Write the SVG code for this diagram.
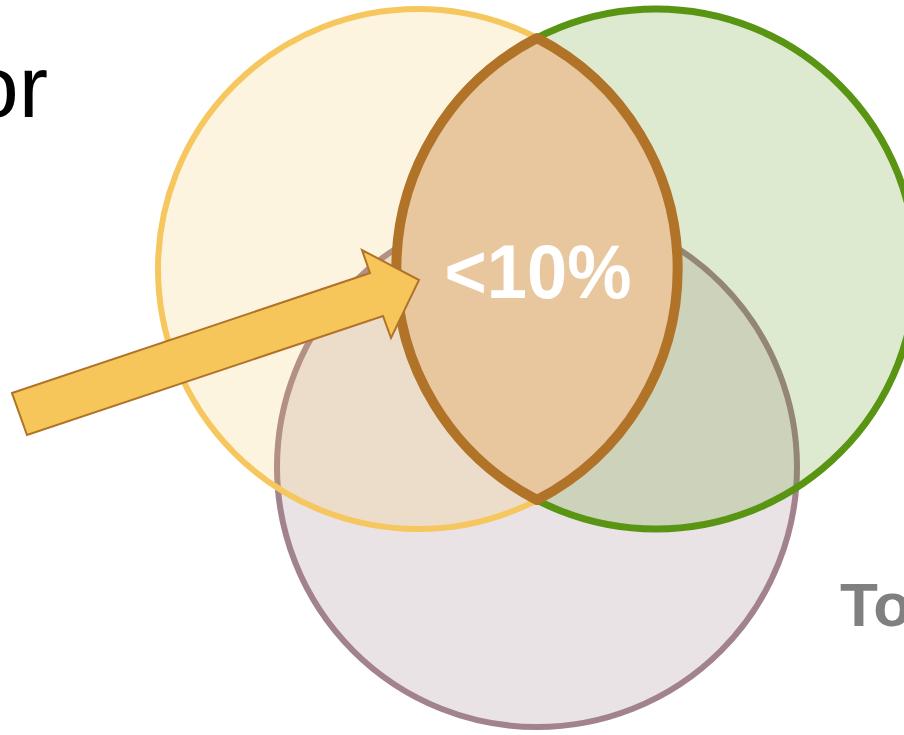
<svg xmlns="http://www.w3.org/2000/svg" width="904" height="735" viewBox="0 0 904 735">
  <style>
    .lbl { font-family: "Liberation Sans", Arial, sans-serif; }
  </style>
  <rect width="904" height="735" fill="#ffffff"/>
  <g id="circle-bottom">
    <circle cx="537" cy="467" r="260" fill="#EAE3E5" stroke="#A2838D" stroke-width="6"/>
  </g>
  <g id="circle-left">
    <circle cx="418" cy="269" r="260" fill="#F6C75E" fill-opacity="0.2" stroke="#F6C75E" stroke-width="6"/>
  </g>
  <g id="circle-right">
    <circle cx="656" cy="269" r="260" fill="#5A9413" fill-opacity="0.2" stroke="#5A9413" stroke-width="7"/>
  </g>
  <g id="intersection">
    <path d="M537,38 A260,260 0 0 1 537,500 A260,260 0 0 1 537,38 Z" fill="#E8C69E" stroke="#B07328" stroke-width="10" stroke-linejoin="round"/>
    <text class="lbl" x="538" y="298" font-size="76" font-weight="bold" fill="#ffffff" text-anchor="middle" textLength="187" lengthAdjust="spacingAndGlyphs">&lt;10%</text>
  </g>
  <g id="connectors">
    <polygon points="12,393 370,273 362,250 419,280 391,338 383,316 27,435" fill="#F6C65B" stroke="#B07328" stroke-width="2" stroke-linejoin="miter"/>
  </g>
  <g id="label-or">
    <text class="lbl" x="48" y="117" font-size="88" fill="#000000" text-anchor="end">or</text>
  </g>
  <g id="label-to">
    <text class="lbl" x="840" y="626" font-size="62" font-weight="bold" fill="#808080">To</text>
  </g>
</svg>
